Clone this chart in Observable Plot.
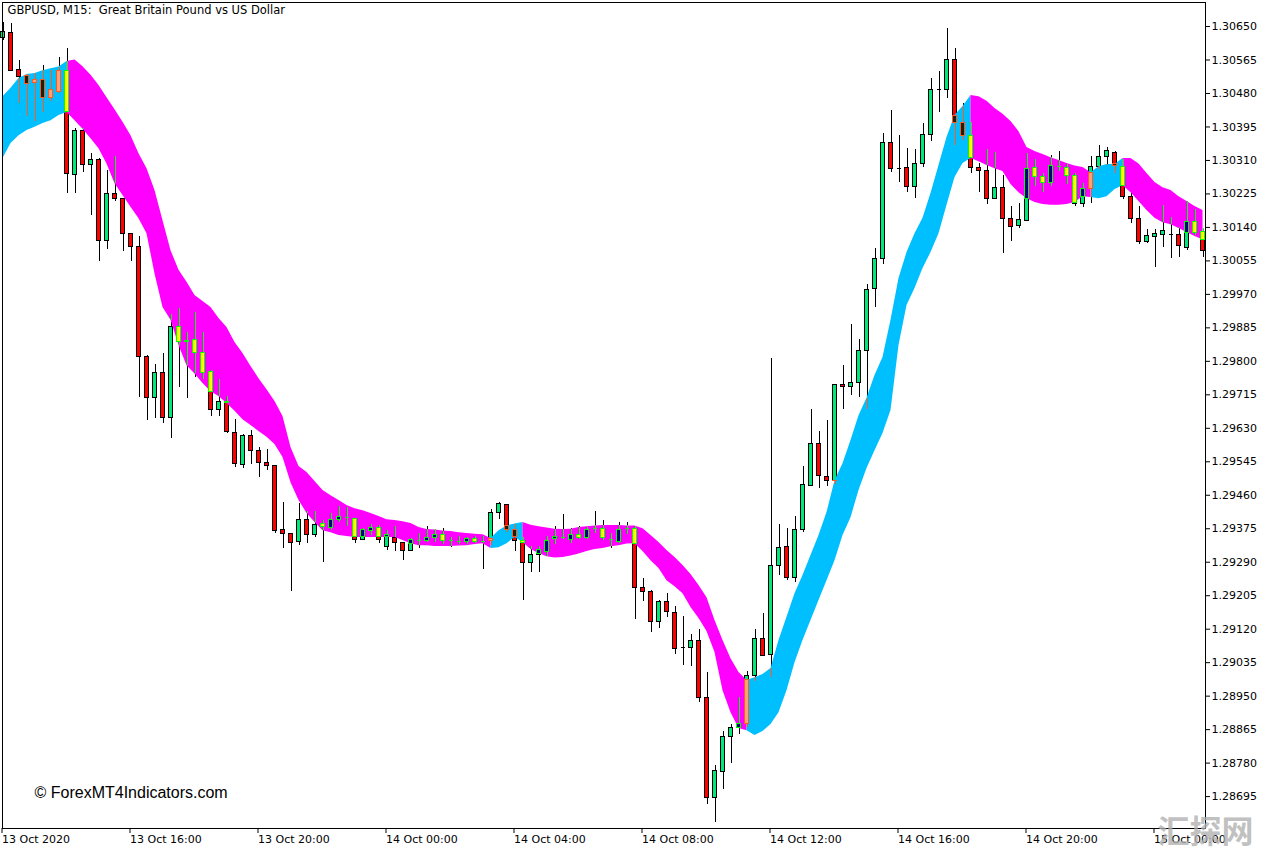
<!DOCTYPE html>
<html><head><meta charset="utf-8">
<script src="https://cdn.jsdelivr.net/npm/d3@7"></script>
<script src="https://cdn.jsdelivr.net/npm/@observablehq/plot@0.6"></script>
<style>
html,body{margin:0;padding:0;background:#fff;}
#chart svg{display:block;}
</style></head><body><div id="chart"></div>
<script>
// GBPUSD M15, bars from 13 Oct 2020 12:00 (bar index 0) to 15 Oct 01:30 (bar index 150)
const open = [1.30622,1.30634,1.30540,1.30525,1.30506,1.30515,1.30469,1.30485,1.30536,1.30273,
1.30386,1.30299,1.30312,1.30105,1.30225,1.30213,1.30124,1.30091,1.29812,1.29706,
1.29771,1.29656,1.29886,1.29851,1.29853,1.29822,1.29772,1.29677,1.29698,1.29618,
1.29537,1.29611,1.29573,1.29542,1.29535,1.29372,1.29362,1.29341,1.29396,1.29359,
1.29387,1.29377,1.29397,1.29404,1.29400,1.29347,1.29370,1.29377,1.29328,1.29352,
1.29339,1.29318,1.29345,1.29343,1.29352,1.29360,1.29345,1.29343,1.29341,1.29349,
1.29343,1.29343,1.29415,1.29436,1.29372,1.29343,1.29287,1.29309,1.29317,1.29349,
1.29353,1.29347,1.29360,1.29351,1.29375,1.29375,1.29347,1.29341,1.29375,1.29375,
1.29225,1.29215,1.29138,1.29189,1.29161,1.29073,1.29072,1.29090,1.28946,1.28692,
1.28757,1.28846,1.28869,1.28880,1.29000,1.29095,1.29055,1.29281,1.29328,1.29250,
1.29373,1.29483,1.29590,1.29507,1.29495,1.29740,1.29734,1.29744,1.29826,1.29983,
1.30059,1.30355,1.30290,1.30291,1.30242,1.30301,1.30375,1.30489,1.30489,1.30565,
1.30406,1.30373,1.30291,1.30284,1.30213,1.30240,1.30162,1.30143,1.30156,1.30291,
1.30269,1.30252,1.30294,1.30291,1.30270,1.30200,1.30238,1.30294,1.30320,1.30329,
1.30294,1.30217,1.30162,1.30102,1.30115,1.30121,1.30121,1.30121,1.30088,1.30153,
1.30128];
const close = [1.30636,1.30537,1.30521,1.30504,1.30515,1.30469,1.30488,1.30536,1.30276,1.30386,
1.30299,1.30312,1.30105,1.30225,1.30213,1.30124,1.30090,1.29810,1.29706,1.29771,
1.29655,1.29886,1.29848,1.29850,1.29822,1.29770,1.29677,1.29698,1.29620,1.29540,
1.29611,1.29572,1.29541,1.29534,1.29370,1.29362,1.29339,1.29396,1.29359,1.29385,
1.29379,1.29398,1.29406,1.29404,1.29347,1.29372,1.29377,1.29347,1.29359,1.29339,
1.29318,1.29347,1.29345,1.29352,1.29360,1.29343,1.29345,1.29343,1.29349,1.29342,
1.29343,1.29415,1.29438,1.29372,1.29343,1.29287,1.29309,1.29321,1.29345,1.29353,
1.29353,1.29359,1.29352,1.29372,1.29375,1.29351,1.29347,1.29372,1.29375,1.29225,
1.29215,1.29138,1.29189,1.29163,1.29070,1.29073,1.29090,1.28946,1.28692,1.28759,
1.28847,1.28869,1.28880,1.29000,1.29095,1.29053,1.29281,1.29326,1.29250,1.29372,
1.29485,1.29590,1.29508,1.29495,1.29740,1.29734,1.29745,1.29827,1.29980,1.30061,
1.30355,1.30289,1.30290,1.30242,1.30301,1.30375,1.30489,1.30489,1.30565,1.30406,
1.30373,1.30291,1.30283,1.30213,1.30240,1.30162,1.30140,1.30160,1.30289,1.30267,
1.30252,1.30295,1.30294,1.30270,1.30200,1.30238,1.30293,1.30318,1.30333,1.30297,
1.30218,1.30162,1.30102,1.30117,1.30124,1.30132,1.30121,1.30092,1.30153,1.30125,
1.30080];
const high = [1.30660,1.30658,1.30565,1.30527,1.30531,1.30551,1.30538,1.30572,1.30594,1.30390,
1.30390,1.30327,1.30314,1.30284,1.30320,1.30214,1.30125,1.30117,1.29815,1.29792,
1.29821,1.29920,1.29935,1.29872,1.29925,1.29872,1.29777,1.29753,1.29711,1.29652,
1.29613,1.29624,1.29582,1.29576,1.29536,1.29442,1.29363,1.29438,1.29419,1.29419,
1.29396,1.29413,1.29431,1.29428,1.29401,1.29375,1.29386,1.29383,1.29370,1.29380,
1.29341,1.29349,1.29362,1.29380,1.29372,1.29375,1.29353,1.29356,1.29353,1.29355,
1.29355,1.29424,1.29442,1.29437,1.29385,1.29353,1.29330,1.29330,1.29355,1.29380,
1.29411,1.29376,1.29380,1.29377,1.29419,1.29396,1.29364,1.29390,1.29390,1.29380,
1.29248,1.29218,1.29194,1.29210,1.29177,1.29152,1.29106,1.29118,1.29011,1.28774,
1.28860,1.28878,1.28947,1.29012,1.29118,1.29159,1.29806,1.29386,1.29375,1.29406,
1.29533,1.29678,1.29622,1.29650,1.29741,1.29789,1.29893,1.29855,1.29994,1.30086,
1.30378,1.30437,1.30373,1.30341,1.30338,1.30404,1.30519,1.30536,1.30646,1.30593,
1.30454,1.30407,1.30301,1.30337,1.30331,1.30272,1.30193,1.30200,1.30327,1.30312,
1.30276,1.30322,1.30333,1.30300,1.30278,1.30251,1.30320,1.30347,1.30344,1.30333,
1.30312,1.30228,1.30193,1.30135,1.30135,1.30196,1.30166,1.30140,1.30206,1.30185,
1.30136];
const low = [1.30614,1.30536,1.30455,1.30422,1.30410,1.30432,1.30460,1.30479,1.30227,1.30227,
1.30280,1.30170,1.30054,1.30084,1.30206,1.30080,1.30054,1.29709,1.29650,1.29656,
1.29643,1.29603,1.29734,1.29705,1.29760,1.29754,1.29661,1.29661,1.29616,1.29531,
1.29528,1.29538,1.29506,1.29523,1.29362,1.29325,1.29216,1.29332,1.29338,1.29352,
1.29290,1.29370,1.29391,1.29380,1.29337,1.29346,1.29358,1.29337,1.29321,1.29318,
1.29294,1.29317,1.29326,1.29341,1.29341,1.29335,1.29328,1.29335,1.29335,1.29337,
1.29271,1.29332,1.29398,1.29366,1.29318,1.29194,1.29264,1.29264,1.29304,1.29334,
1.29347,1.29337,1.29347,1.29347,1.29363,1.29345,1.29326,1.29337,1.29360,1.29144,
1.29191,1.29112,1.29121,1.29149,1.29057,1.29028,1.29026,1.28934,1.28676,1.28630,
1.28712,1.28778,1.28852,1.28871,1.28988,1.29052,1.28998,1.29256,1.29243,1.29239,
1.29365,1.29482,1.29478,1.29482,1.29487,1.29678,1.29713,1.29709,1.29677,1.29937,
1.30045,1.30280,1.30255,1.30229,1.30213,1.30293,1.30359,1.30432,1.30468,1.30348,
1.30361,1.30276,1.30229,1.30198,1.30212,1.30073,1.30104,1.30138,1.30155,1.30244,
1.30229,1.30244,1.30283,1.30248,1.30193,1.30190,1.30200,1.30286,1.30297,1.30276,
1.30210,1.30149,1.30096,1.30100,1.30039,1.30090,1.30062,1.30064,1.30081,1.30119,
1.30064];
// indicator ribbon: upper and lower edges per bar
const bandUpper = [1.30472,1.30493,1.30518,1.30528,1.30531,1.30538,1.30543,1.30547,1.30561,1.30565,
1.30548,1.30526,1.30500,1.30469,1.30439,1.30407,1.30373,1.30327,1.30289,1.30234,
1.30157,1.30081,1.30031,1.30001,1.29967,1.29952,1.29937,1.29909,1.29886,1.29848,
1.29820,1.29787,1.29756,1.29728,1.29698,1.29660,1.29581,1.29533,1.29518,1.29495,
1.29472,1.29459,1.29447,1.29434,1.29426,1.29421,1.29414,1.29406,1.29398,1.29396,
1.29393,1.29388,1.29378,1.29373,1.29372,1.29369,1.29368,1.29365,1.29363,1.29361,
1.29360,1.29350,1.29370,1.29382,1.29387,1.29391,1.29384,1.29380,1.29377,1.29374,
1.29373,1.29374,1.29378,1.29380,1.29382,1.29383,1.29383,1.29383,1.29382,1.29382,
1.29375,1.29358,1.29340,1.29320,1.29302,1.29282,1.29259,1.29231,1.29200,1.29142,
1.29091,1.29045,1.29010,1.28990,1.28997,1.29005,1.29020,1.29091,1.29150,1.29210,
1.29256,1.29307,1.29358,1.29416,1.29497,1.29540,1.29599,1.29662,1.29706,1.29764,
1.29810,1.29904,1.30010,1.30076,1.30124,1.30163,1.30226,1.30297,1.30368,1.30424,
1.30447,1.30475,1.30472,1.30460,1.30442,1.30427,1.30409,1.30383,1.30343,1.30333,
1.30325,1.30317,1.30310,1.30302,1.30296,1.30292,1.30279,1.30294,1.30300,1.30300,
1.30315,1.30315,1.30301,1.30277,1.30254,1.30241,1.30234,1.30218,1.30206,1.30193,
1.30183];
const bandLower = [1.30315,1.30353,1.30373,1.30386,1.30394,1.30404,1.30411,1.30424,1.30432,1.30411,
1.30389,1.30365,1.30340,1.30301,1.30251,1.30221,1.30191,1.30162,1.30124,1.30022,
1.29937,1.29904,1.29840,1.29789,1.29768,1.29744,1.29723,1.29711,1.29693,1.29673,
1.29652,1.29637,1.29622,1.29607,1.29589,1.29556,1.29492,1.29447,1.29414,1.29391,
1.29370,1.29365,1.29358,1.29355,1.29353,1.29353,1.29353,1.29353,1.29353,1.29353,
1.29345,1.29337,1.29332,1.29332,1.29330,1.29330,1.29330,1.29331,1.29332,1.29335,
1.29337,1.29325,1.29327,1.29337,1.29353,1.29340,1.29322,1.29312,1.29304,1.29301,
1.29302,1.29306,1.29311,1.29317,1.29322,1.29325,1.29329,1.29332,1.29336,1.29337,
1.29317,1.29294,1.29274,1.29243,1.29228,1.29210,1.29175,1.29147,1.29114,1.29061,
1.28964,1.28908,1.28868,1.28862,1.28850,1.28860,1.28878,1.28908,1.28964,1.29035,
1.29091,1.29142,1.29193,1.29243,1.29294,1.29358,1.29403,1.29472,1.29528,1.29573,
1.29617,1.29675,1.29840,1.29942,1.29985,1.30036,1.30076,1.30124,1.30196,1.30267,
1.30302,1.30315,1.30307,1.30297,1.30289,1.30282,1.30249,1.30228,1.30213,1.30203,
1.30198,1.30196,1.30196,1.30198,1.30203,1.30218,1.30216,1.30213,1.30218,1.30236,
1.30246,1.30228,1.30206,1.30183,1.30163,1.30152,1.30147,1.30137,1.30127,1.30117,
1.30109];
const trendRuns = [
  {from: 0, to: 7, trend: "up"},
  {from: 8, to: 60, trend: "down"},
  {from: 61, to: 64, trend: "up"},
  {from: 65, to: 92, trend: "down"},
  {from: 93, to: 120, trend: "up"},
  {from: 121, to: 135, trend: "down"},
  {from: 136, to: 139, trend: "up"},
  {from: 140, to: 150, trend: "down"}
];
const xTickBars = [0, 16, 32, 48, 64, 80, 96, 112, 128, 144];
const xTickLabels = ["13 Oct 2020", "13 Oct 16:00", "13 Oct 20:00", "14 Oct 00:00", "14 Oct 04:00",
  "14 Oct 08:00", "14 Oct 12:00", "14 Oct 16:00", "14 Oct 20:00", "15 Oct 00:00"];
const yTickValues = [1.28695, 1.28780, 1.28865, 1.28950, 1.29035, 1.29120, 1.29205, 1.29290,
  1.29375, 1.29460, 1.29545, 1.29630, 1.29715, 1.29800, 1.29885, 1.29970, 1.30055, 1.30140,
  1.30225, 1.30310, 1.30395, 1.30480, 1.30565, 1.30650];
const titleText = "GBPUSD, M15:\u00a0 Great Britain Pound vs US Dollar";
const watermarkText = "© ForexMT4Indicators.com";
const siteMark = "汇探网";

const BLUE = "#00bfff", MAGENTA = "#ff00ff", GREEN = "#00e87a", RED = "#ff0000";
const trendOf = i => trendRuns.find(r => i >= r.from && i <= r.to).trend;
const bars = open.map((o, i) => {
  const c = close[i], h = high[i], l = low[i];
  const up = c >= o, tr = trendOf(i);
  const top = Math.max(bandUpper[i], bandLower[i]), bot = Math.min(bandUpper[i], bandLower[i]);
  const wLo = Math.max(l, bot), wHi = Math.min(h, top);
  const bLo = Math.max(Math.min(o, c), bot), bHi = Math.min(Math.max(o, c), top);
  return {i, o, c, h, l, up, trend: tr, upper: bandUpper[i], lower: bandLower[i],
    doji: o === c, wLo, wHi, bLo, bHi, hasW: wLo <= wHi, hasB: bLo <= bHi,
    pStroke: tr === "down" ? "#00ff00" : "#ff5a1e",
    pFill: tr === "down" ? (up ? "#000080" : "#ffff00") : (up ? "#ffa07a" : "#1e1e00"),
    nFill: up ? GREEN : RED};
});

const bandMarks = trendRuns.map(r => Plot.areaY(bars.slice(r.from, Math.min(r.to + 2, bars.length)), {
  x: "i", y1: "lower", y2: "upper", fill: r.trend === "up" ? BLUE : MAGENTA, curve: "linear"
}));

const HW = 0.25;
const chart = Plot.plot({
  width: 1275, height: 852,
  marginLeft: 2, marginRight: 70, marginTop: 2, marginBottom: 24,
  style: {fontFamily: "DejaVu Sans, sans-serif", fontSize: "11px", background: "#ffffff", color: "#000"},
  x: {domain: [-0.0625, 150.3125], axis: null},
  y: {domain: [1.28614, 1.30711], axis: null},
  color: {type: "identity"},
  marks: [
    // normal candles
    Plot.ruleX(bars, {x: "i", y1: "l", y2: "h", stroke: "#000", strokeWidth: 1, shapeRendering: "crispEdges"}),
    Plot.rect(bars.filter(d => !d.doji), {x1: d => d.i - HW, x2: d => d.i + HW, y1: "o", y2: "c", fill: "nFill", stroke: "#000", shapeRendering: "crispEdges"}),
    Plot.ruleY(bars.filter(d => d.doji), {y: "o", x1: d => d.i - HW, x2: d => d.i + HW, stroke: "#000", shapeRendering: "crispEdges"}),
    // ribbon
    ...bandMarks,
    // candle parts lying inside the ribbon
    Plot.ruleX(bars.filter(d => d.hasW), {x: "i", y1: "wLo", y2: "wHi", stroke: "pStroke", shapeRendering: "crispEdges"}),
    Plot.rect(bars.filter(d => d.hasB && !d.doji), {x1: d => d.i - HW, x2: d => d.i + HW, y1: "bLo", y2: "bHi", fill: "pFill", stroke: "pStroke", shapeRendering: "crispEdges"}),
    Plot.ruleY(bars.filter(d => d.hasB && d.doji), {y: "o", x1: d => d.i - HW, x2: d => d.i + HW, stroke: "pStroke", shapeRendering: "crispEdges"}),
    // frame and axes
    Plot.frame({stroke: "#000", shapeRendering: "crispEdges"}),
    Plot.axisY(yTickValues, {anchor: "right", tickSize: 4, tickPadding: 2, label: null,
      tickFormat: d => d.toFixed(5), fontSize: 11, fill: "#000", stroke: "#000"}),
    Plot.axisX(xTickBars, {anchor: "bottom", tickSize: 5, tickPadding: 2, label: null, textAnchor: "start", dx: -1,
      tickFormat: d => xTickLabels[xTickBars.indexOf(d)], fontSize: 11, fill: "#000", stroke: "#000"}),
    // texts
    Plot.text([titleText], {frameAnchor: "top-left", dx: 5, dy: 3, textAnchor: "start", lineAnchor: "top", fontSize: 11.5, fill: "#000"}),
    Plot.text([watermarkText], {frameAnchor: "bottom-left", dx: 32, dy: -36, textAnchor: "start", lineAnchor: "middle",
      fontSize: 16, fontFamily: "Liberation Sans, Arial, sans-serif", fill: "#000"}),
    Plot.text([siteMark], {frameAnchor: "bottom-right", dx: 0, dy: 4, textAnchor: "middle", lineAnchor: "middle",
      fontSize: 32, fontWeight: "bold", fontFamily: "Noto Sans CJK SC", fill: "#b0b0b0", fillOpacity: 0.8})
  ]
});
document.getElementById("chart").appendChild(chart);
</script>
</body></html>
